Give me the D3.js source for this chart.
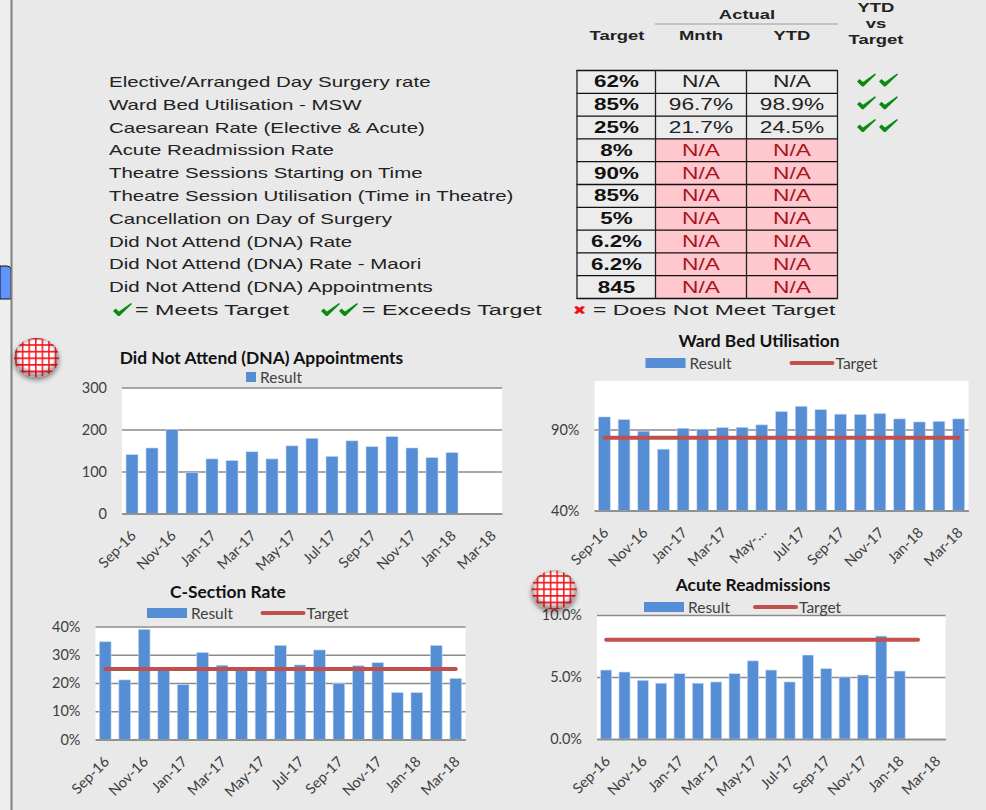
<!DOCTYPE html>
<html>
<head>
<meta charset="utf-8">
<script src="https://d3js.org/d3.v7.min.js"></script>
<style>
html,body{margin:0;padding:0;background:#e9e9e9;overflow:hidden;}
svg{display:block;}
.lab{font-family:"Liberation Sans",Arial,sans-serif;}
.chart text{font-family:Lato,sans-serif;fill:#404040;}
.chart .title{font-weight:700;fill:#111;}
</style>
</head>
<body>
<div id="chart"></div>
<script>
var width = 986;
var height = 810;

// table
var rowLabels = ["Elective/Arranged Day Surgery rate","Ward Bed Utilisation - MSW","Caesarean Rate (Elective & Acute)","Acute Readmission Rate","Theatre Sessions Starting on Time","Theatre Session Utilisation (Time in Theatre)","Cancellation on Day of Surgery","Did Not Attend (DNA) Rate","Did Not Attend (DNA) Rate - Maori","Did Not Attend (DNA) Appointments"];
var targets = ["62%","85%","25%","8%","90%","85%","5%","6.2%","6.2%","845"];
var actualMnth = ["N/A","96.7%","21.7%","N/A","N/A","N/A","N/A","N/A","N/A","N/A"];
var actualYtd = ["N/A","98.9%","24.5%","N/A","N/A","N/A","N/A","N/A","N/A","N/A"];
var missing = [false,false,false,true,true,true,true,true,true,true];
var ticksVsTarget = [2,2,2,0,0,0,0,0,0,0];

// charts
var months = ["Sep-16","Oct-16","Nov-16","Dec-16","Jan-17","Feb-17","Mar-17","Apr-17","May-17","Jun-17","Jul-17","Aug-17","Sep-17","Oct-17","Nov-17","Dec-17","Jan-18","Feb-18","Mar-18"];
var dnaResult = [140,156,200,98,130,126,147,130,161,179,136,173,159,183,156,133,145];
var wardResult = [97.8,96.2,89,77.9,90.8,90.2,91.2,91.4,92.9,101.1,104.4,102.3,99.5,99.3,99.9,96.6,94.7,95.1,96.6];
var wardTarget = [85,85,85,85,85,85,85,85,85,85,85,85,85,85,85,85,85,85,85];
var csectionResult = [34.6,21.1,39,24.7,19.4,30.8,26.3,24.7,24.7,33.3,26.4,31.7,19.9,26.1,27.2,16.6,16.6,33.3,21.6];
var csectionTarget = [25,25,25,25,25,25,25,25,25,25,25,25,25,25,25,25,25,25,25];
var acuteResult = [5.56,5.4,4.73,4.5,5.27,4.5,4.6,5.27,6.3,5.56,4.6,6.77,5.67,5,5.16,8.3,5.48];
var acuteTarget = [8,8,8,8,8,8,8,8,8,8,8,8,8,8,8,8,8,8];

var svg = d3.select("#chart").append("svg")
            .attr("width",width)
            .attr("height",height);

var defs = svg.append("defs");
var grid = defs.append("pattern").attr("id","redgrid")
   .attr("patternUnits","userSpaceOnUse")
   .attr("x",2).attr("y",1).attr("width",6.6).attr("height",6.6);
grid.append("rect").attr("width",6.6).attr("height",6.6).attr("fill","#fff");
grid.append("path").attr("d","M0 .8H6.6M.8 0V6.6").attr("stroke","#f4141c").attr("stroke-width",1.5);
var shade = defs.append("radialGradient").attr("id","shade").attr("cx","50%").attr("cy","45%").attr("r","52%");
shade.append("stop").attr("offset","70%").attr("stop-color","#000").attr("stop-opacity",0);
shade.append("stop").attr("offset","100%").attr("stop-color","#611").attr("stop-opacity",.45);
defs.append("filter").attr("id","blurshadow").attr("x","-30%").attr("y","-30%").attr("width","160%").attr("height","160%")
   .append("feDropShadow").attr("dx",0).attr("dy",3).attr("stdDeviation",2.5).attr("flood-color","#000").attr("flood-opacity",.45);

// page furniture
svg.append("rect").attr("width",width).attr("height",height).attr("fill","#e9e9e9");
svg.append("rect").attr("width",11).attr("height",height).attr("fill","#eeeeee");
svg.append("path").attr("d","M0 266H7Q11 266 11 270V299H0Z").attr("fill","#5f95fb").attr("stroke","#111").attr("stroke-width",1);
svg.append("line").attr("x1",11.5).attr("x2",11.5).attr("y1",0).attr("y2",height).attr("stroke","#7f7f7f").attr("stroke-width",2);

// stretched text, the source picture is wider than it is tall
function stretched(g,x,y,str,size,sx,anchor,weight,color){
  return g.append("text")
    .attr("class","lab")
    .attr("transform","translate("+x+","+y+") scale("+sx+",1)")
    .attr("text-anchor",anchor)
    .attr("font-size",size)
    .attr("font-weight",weight)
    .attr("fill",color)
    .text(str);
}

var tick = "M0 8L2.5 5.5L6 8.5L18 0L19 1L6.5 13L5 13Z";
function drawTick(g,x,y){
  g.append("path").attr("d",tick).attr("transform","translate("+x+","+y+")").attr("fill","#0b8a12");
}

var table = svg.append("g");
var rowY = d3.scaleBand().domain(d3.range(rowLabels.length)).range([70.5,298.5]);
var colX = {target:[577,655.5],mnth:[655.5,746.5],ytd:[746.5,837.5]};

rowLabels.forEach(function(d,i){
  var y = rowY(i), h = rowY.bandwidth(), mid = y+h/2+5.5;
  stretched(table,109,mid-0.5,d,14.5,1.41,"start","normal","#222");
  table.append("rect").attr("x",colX.target[0]).attr("y",y).attr("width",78.5).attr("height",h).attr("fill","#ececec");
  table.append("rect").attr("x",colX.mnth[0]).attr("y",y).attr("width",91).attr("height",h).attr("fill",missing[i]?"#ffc7ce":"#ececec");
  table.append("rect").attr("x",colX.ytd[0]).attr("y",y).attr("width",91).attr("height",h).attr("fill",missing[i]?"#ffc7ce":"#ececec");
  var col = missing[i] ? "#a81420" : "#222";
  stretched(table,616.5,mid,targets[i],16,1.4,"middle","bold","#111");
  stretched(table,701,mid,actualMnth[i],16,1.42,"middle","normal",col);
  stretched(table,792,mid,actualYtd[i],16,1.42,"middle","normal",col);
  d3.range(ticksVsTarget[i]).forEach(function(k){
    drawTick(table,857+k*22,y+3);
  });
});
// cell borders
rowY.domain().concat([rowLabels.length]).forEach(function(i){
  var y = i==rowLabels.length ? 298.5 : rowY(i);
  table.append("line").attr("x1",576.5).attr("x2",838).attr("y1",y).attr("y2",y).attr("stroke","#111").attr("stroke-width",1.3);
});
[577,655.5,746.5,837.5].forEach(function(x){
  table.append("line").attr("x1",x).attr("x2",x).attr("y1",70).attr("y2",299).attr("stroke","#222").attr("stroke-width",1.3);
});

// header
stretched(table,617,40,"Target",13,1.42,"middle","bold","#222");
stretched(table,747,19,"Actual",13,1.42,"middle","bold","#222");
stretched(table,701,40,"Mnth",13,1.42,"middle","bold","#222");
stretched(table,792,40,"YTD",13,1.42,"middle","bold","#222");
stretched(table,876,12,"YTD",13,1.42,"middle","bold","#222");
stretched(table,876,28,"vs",13,1.42,"middle","bold","#222");
stretched(table,876,44,"Target",13,1.42,"middle","bold","#222");
table.append("line").attr("x1",655).attr("x2",838).attr("y1",24).attr("y2",24).attr("stroke","#b5b5b5").attr("stroke-width",1.6);

// key under the table
drawTick(table,113,303);
stretched(table,135,315,"= Meets Target",15.5,1.5,"start","normal","#222");
drawTick(table,321,303);
drawTick(table,339,303);
stretched(table,362,315,"= Exceeds Target",15.5,1.5,"start","normal","#222");
table.append("path").attr("d","M574 307L577 306L579.5 308L582 306L585 307L582 310L585 313L582 314L579.5 312L577 314L574 313L577 310Z").attr("fill","#f01018");
stretched(table,593,315,"= Does Not Meet Target",15.5,1.48,"start","normal","#222");

// bar charts
function barChart(o){
  var g = svg.append("g").attr("class","chart");
  var x = d3.scaleBand().domain(months).range([o.left,o.right]).paddingInner(0.4).paddingOuter(0.2);
  var y = d3.scaleLinear().domain(o.domain).range([o.bottom,o.top]);
  g.append("rect").attr("x",o.left).attr("y",o.top).attr("width",o.right-o.left).attr("height",o.bottom-o.top).attr("fill","#fff");

  var yAxis = d3.axisLeft(y).tickValues(o.ticks).tickFormat(o.format).tickSize(-(o.right-o.left)).tickPadding(15);
  var ya = g.append("g").attr("transform","translate("+o.left+",0)").call(yAxis);
  ya.select(".domain").remove();
  ya.selectAll("line").attr("stroke","#8a8a8a").attr("stroke-width",1.5);
  ya.selectAll("text").attr("font-size",14.5);

  g.selectAll(".bar").data(o.result).enter().append("rect")
    .attr("class","bar")
    .attr("x",function(d,i){ return x(months[i]); })
    .attr("y",function(d){ return y(d); })
    .attr("width",x.bandwidth())
    .attr("height",function(d){ return o.bottom-y(d); })
    .attr("fill","#558ed5")
    .attr("stroke","#c5d9f1")
    .attr("stroke-width",0.6);

  var xAxis = d3.axisBottom(x)
     .tickValues(months.filter(function(d,i){ return i%2==0; }))
     .tickSize(0)
     .tickFormat(function(d){ return (o.cut && o.cut[d]) || d; });
  var xa = g.append("g").attr("transform","translate(0,"+o.bottom+")").call(xAxis);
  xa.select(".domain").attr("stroke","#8a8a8a").attr("stroke-width",1.5);
  xa.selectAll("text")
    .attr("font-size",14.5)
    .attr("text-anchor","end")
    .attr("dy",0)
    .attr("y",0)
    .attr("transform","translate(5,23) rotate(-45)");

  if(o.target){
    var line = d3.line()
      .x(function(d,i){ return x(months[i])+x.bandwidth()/2; })
      .y(function(d){ return y(d); });
    g.append("path").datum(o.target).attr("d",line)
      .attr("fill","none").attr("stroke","#c0504d").attr("stroke-width",4).attr("stroke-linecap","round");
  }

  g.append("text").attr("class","title").attr("x",o.titleX).attr("y",o.titleY).attr("text-anchor","middle").attr("font-size",17.4).text(o.title);

  var leg = o.legend;
  g.append("rect").attr("x",leg.x).attr("y",leg.y-5).attr("width",leg.w).attr("height",10).attr("fill","#558ed5");
  g.append("text").attr("x",leg.x+leg.w+4).attr("y",leg.y+5.5).attr("font-size",15.5).text("Result");
  if(o.target){
    g.append("line").attr("x1",leg.lx).attr("x2",leg.lx+41).attr("y1",leg.y).attr("y2",leg.y)
      .attr("stroke","#c0504d").attr("stroke-width",4).attr("stroke-linecap","round");
    g.append("text").attr("x",leg.lx+44).attr("y",leg.y+5.5).attr("font-size",15.5).text("Target");
  }
}

var pct = function(d){ return d+"%"; };

barChart({title:"Did Not Attend (DNA) Appointments",titleX:261.5,titleY:364,
  left:122,right:502,top:387.5,bottom:513.5,
  domain:[0,300],ticks:[0,100,200,300],format:d3.format("d"),
  result:dnaResult,legend:{x:246,y:377,w:10}});
barChart({title:"Ward Bed Utilisation",titleX:759,titleY:347,
  left:594.5,right:968.5,top:381,bottom:510.5,
  domain:[40,120],ticks:[40,90],format:pct,cut:{"May-17":"May-…"},
  result:wardResult,target:wardTarget,legend:{x:645.5,y:363,w:40,lx:791.5}});
barChart({title:"C-Section Rate",titleX:228,titleY:598,
  left:95.5,right:465.5,top:626.5,bottom:739.5,
  domain:[0,40],ticks:[0,10,20,30,40],format:pct,
  result:csectionResult,target:csectionTarget,legend:{x:147,y:613,w:40,lx:262.5}});
barChart({title:"Acute Readmissions",titleX:753,titleY:591,
  left:597,right:945.5,top:615,bottom:739,
  domain:[0,10],ticks:[0,5,10],format:function(d){ return d3.format(".1f")(d)+"%"; },
  result:acuteResult,target:acuteTarget,legend:{x:644,y:607,w:40,lx:755}});

// red markers
[[36.5,357.5],[554,590]].forEach(function(p){
  svg.append("ellipse").attr("cx",p[0]).attr("cy",p[1]).attr("rx",22.5).attr("ry",19.5).attr("fill","url(#redgrid)").attr("filter","url(#blurshadow)");
  svg.append("ellipse").attr("cx",p[0]).attr("cy",p[1]).attr("rx",22.5).attr("ry",19.5).attr("fill","url(#shade)");
});
</script>
</body>
</html>
